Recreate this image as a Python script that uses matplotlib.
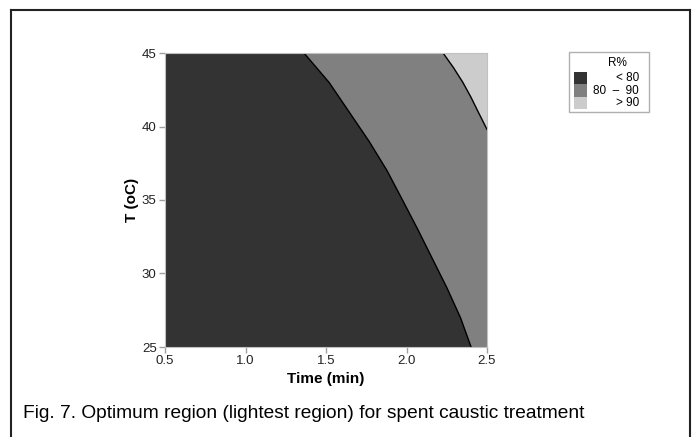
import numpy as np
import matplotlib.pyplot as plt
from matplotlib.patches import Rectangle
from matplotlib.lines import Line2D

plt.rcParams['font.family'] = ['Liberation Sans', 'DejaVu Sans']

T_80 = [25, 27, 29, 31, 33, 35, 37, 39, 41, 43, 45]
t_80 = [2.401, 2.335, 2.252, 2.161, 2.070, 1.975, 1.879, 1.767, 1.643, 1.519, 1.363]
# boundary R = 90 %
T_90 = [39.8, 41.0, 42.0, 43.0, 44.0, 45.0]
t_90 = [2.500, 2.445, 2.400, 2.350, 2.292, 2.227]

levels = ['< 80', '80  \u2013  90', '> 90']
colors = ['#333333', '#808080', '#cccccc']

fig = plt.figure(figsize=(6.96, 4.37), dpi=100)
ax = fig.add_axes([165/696, 1-347/437, 322/696, 294/437])

ax.fill_between([0.5, 2.5], 25, 45, color=colors[1], lw=0)
ax.fill_betweenx(T_80, 0.5, t_80, color=colors[0], lw=0)
ax.fill_betweenx(T_90, t_90, 2.5, color=colors[2], lw=0)
ax.plot(t_80, T_80, color='black', lw=1)
ax.plot(t_90, T_90, color='black', lw=1)

ax.set_xlim(0.5, 2.5)
ax.set_ylim(25, 45)
ax.set_xticks([0.5, 1.0, 1.5, 2.0, 2.5])
ax.set_yticks([25, 30, 35, 40, 45])
ax.set_xticklabels(['0.5', '1.0', '1.5', '2.0', '2.5'])
for s in ax.spines.values():
    s.set_color('#c0c0c0')
ax.tick_params(colors='#a0a0a0', labelcolor='#222222', labelsize=9.5, length=4, width=1, pad=2)
ax.set_xlabel('Time (min)', fontsize=11, fontweight='bold', labelpad=3)
ax.set_ylabel('T (oC)', fontsize=11, fontweight='bold', labelpad=2)

# legend drawn by hand so labels are right aligned
fig.add_artist(Rectangle((569/696, 1-112/437), 80/696, 60/437, transform=fig.transFigure,
                         fill=False, edgecolor='#b0b0b0', lw=1))
fig.text(617/696, 1-63/437, 'R%', ha='center', va='center', fontsize=8.5)
for i, (lab, c) in enumerate(zip(levels, colors)):
    yc = 78 + i*12.5
    fig.add_artist(Rectangle((574/696, 1-(yc+6)/437), 13/696, 12/437,
                             transform=fig.transFigure, color=c, lw=0))
    fig.text(639/696, 1-yc/437, lab, ha='right', va='center', fontsize=8.5)

# outer frame and caption
for xs, ys in [([11, 11], [10, 450]), ([11, 690], [10, 10]), ([690, 690], [10, 450])]:
    fig.add_artist(Line2D(np.array(xs)/696, 1-np.array(ys)/437, color='#222222', lw=1.5))
fig.text(23/696, 1-413/437, 'Fig. 7. Optimum region (lightest region) for spent caustic treatment',
         ha='left', va='center', fontsize=13.8)

fig.savefig('out.png', dpi=100)
